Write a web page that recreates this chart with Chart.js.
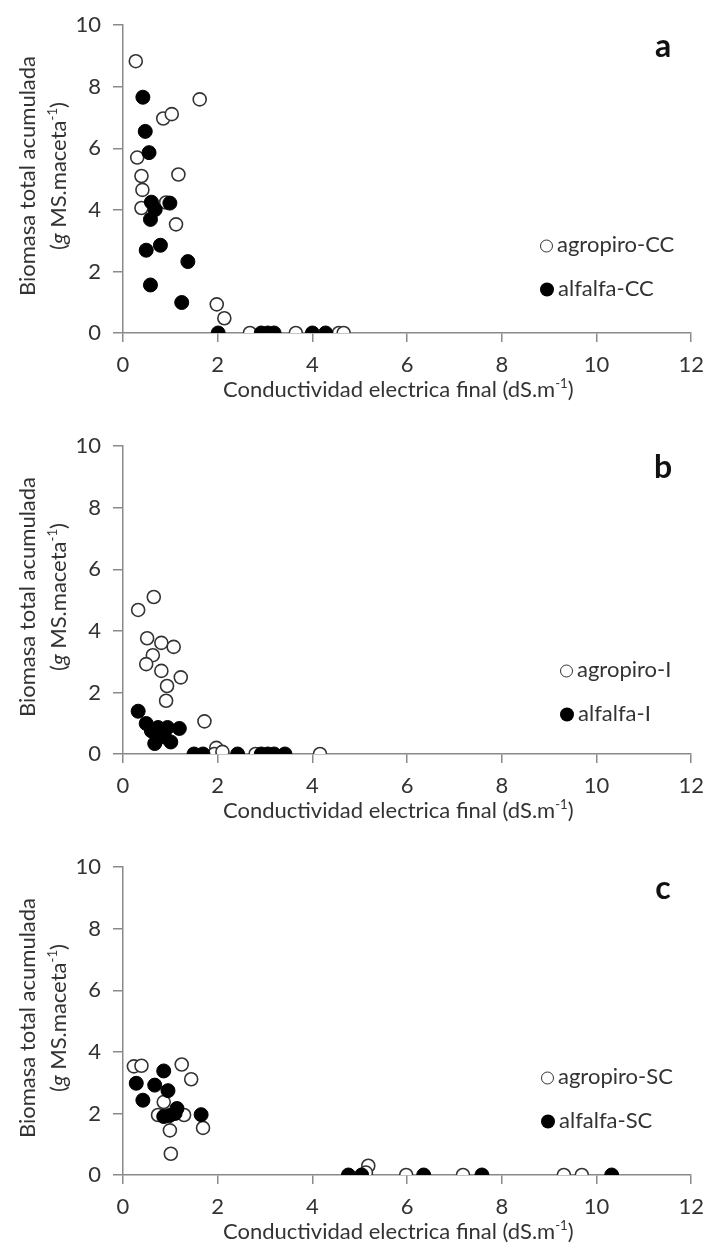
<!DOCTYPE html>
<html>
<head>
<meta charset="utf-8">
<script src="https://cdn.jsdelivr.net/npm/chart.js@4.4.1/dist/chart.umd.min.js"></script>
<style>
    body { margin: 0; background: #fff; width: 714px; height: 1258px; overflow: hidden; font-family: Lato, sans-serif; color: #333; }
    .panel { position: absolute; left: 0; width: 714px; height: 421px; }
    .panel canvas { position: absolute; left: 0; top: 0; }
    .ytitle { position: absolute; white-space: nowrap; font-size: 22px; transform: translate(-50%, -50%) rotate(-90deg); }
    .xtitle { position: absolute; left: 223px; top: 388px; white-space: nowrap; font-size: 22px; transform: translateY(-50%); }
    .letter { position: absolute; font-weight: bold; font-size: 32px; color: #111; transform: translate(-50%, -50%); }
    .leg { position: absolute; white-space: nowrap; font-size: 22px; transform: translateY(-50%); }
    .leg .dot { display: inline-block; width: 11px; height: 11px; border-radius: 50%; margin-right: 4px; vertical-align: -1px; }
    sup { font-size: 60%; }
</style>
</head>
<body>
<div id="panels"></div>
<script>
// Panel a - CC
const ccAgroX = [0.27, 1.62, 0.85, 1.03, 0.30, 0.39, 1.17, 0.41, 0.39, 0.91, 1.12, 1.98, 2.14, 2.68, 3.65, 4.56, 4.66];
const ccAgroY = [8.83, 7.59, 6.97, 7.11, 5.70, 5.10, 5.15, 4.65, 4.06, 4.24, 3.53, 0.93, 0.48, 0, 0, 0, 0];
const ccAlfX = [0.42, 0.47, 0.55, 0.60, 0.68, 0.99, 0.58, 0.49, 0.79, 1.37, 0.58, 1.24, 2.01, 2.92, 3.06, 3.19, 4.00, 4.28];
const ccAlfY = [7.66, 6.55, 5.86, 4.25, 4.01, 4.22, 3.69, 2.69, 2.85, 2.32, 1.56, 0.99, 0, 0, 0, 0, 0, 0];

// Panel b - I
const iAgroX = [0.32, 0.65, 0.51, 0.81, 1.07, 0.63, 0.49, 0.81, 1.22, 0.93, 0.91, 1.72, 1.97, 1.93, 2.10, 2.80, 4.16];
const iAgroY = [4.68, 5.10, 3.76, 3.61, 3.48, 3.21, 2.92, 2.70, 2.49, 2.21, 1.73, 1.06, 0.20, 0, 0.07, 0, 0];
const iAlfX = [0.32, 0.49, 0.74, 0.94, 1.19, 0.81, 0.88, 0.60, 0.67, 1.01, 1.50, 1.69, 2.42, 2.92, 3.06, 3.19, 3.42];
const iAlfY = [1.39, 0.99, 0.86, 0.86, 0.83, 0.65, 0.55, 0.75, 0.34, 0.39, 0, 0, 0, 0, 0, 0, 0];

// Panel c - SC
const scAgroX = [0.23, 0.39, 1.24, 1.44, 0.86, 0.74, 1.29, 1.69, 0.99, 1.01, 5.18, 5.13, 5.98, 7.18, 9.31, 9.69];
const scAgroY = [3.53, 3.55, 3.59, 3.11, 2.37, 1.95, 1.95, 1.53, 1.45, 0.69, 0.30, 0.08, 0, 0, 0, 0];
const scAlfX = [0.86, 0.28, 0.67, 0.95, 0.42, 1.14, 1.10, 0.86, 1.65, 0.98, 4.76, 5.04, 6.35, 7.58, 10.32];
const scAlfY = [3.38, 2.98, 2.92, 2.74, 2.43, 2.16, 2.00, 1.90, 1.96, 1.93, 0, 0, 0, 0, 0];

const xTicks = [0, 2, 4, 6, 8, 10, 12];
const yTicks = [0, 2, 4, 6, 8, 10];

const panels = [
    { letter: 'a', agro: 'agropiro-CC', alf: 'alfalfa-CC', ax: ccAgroX, ay: ccAgroY, fx: ccAlfX, fy: ccAlfY, legX: 540, legY: 243 },
    { letter: 'b', agro: 'agropiro-I', alf: 'alfalfa-I', ax: iAgroX, ay: iAgroY, fx: iAlfX, fy: iAlfY, legX: 560, legY: 247 },
    { letter: 'c', agro: 'agropiro-SC', alf: 'alfalfa-SC', ax: scAgroX, ay: scAgroY, fx: scAlfX, fy: scAlfY, legX: 541, legY: 233 }
];

function toPoints(xs, ys) {
    return xs.map((x, i) => ({ x: x, y: ys[i] }));
}

const axisColor = '#8a8a8a';
const tickFont = { family: 'Lato', size: 22 };

function buildPanel(p, idx) {
    const div = document.createElement('div');
    div.className = 'panel';
    div.style.top = (idx * 421) + 'px';
    div.innerHTML =
        '<canvas width="714" height="421"></canvas>' +
        '<div class="ytitle" style="left:26px;top:176px">Biomasa total acumulada</div>' +
        '<div class="ytitle" style="left:57px;top:176px">(<i>g</i> MS.maceta<sup>-1</sup>)</div>' +
        '<div class="xtitle">Conductividad electrica final (dS.m<sup>-1</sup>)</div>' +
        '<div class="letter" style="left:663px;top:44px">' + p.letter + '</div>' +
        '<div class="leg" style="left:' + p.legX + 'px;top:' + p.legY + 'px"><span class="dot" style="border:1.5px solid #333;background:#fff"></span>' + p.agro + '</div>' +
        '<div class="leg" style="left:' + p.legX + 'px;top:' + (p.legY + 44) + 'px"><span class="dot" style="width:14px;height:14px;background:#000"></span>' + p.alf + '</div>';
    document.getElementById('panels').appendChild(div);

    const ctx = div.querySelector('canvas').getContext('2d');
    new Chart(ctx, {
        type: 'scatter',
        data: {
            datasets: [{
                label: p.alf,
                data: toPoints(p.fx, p.fy),
                backgroundColor: '#000',
                borderColor: '#000',
                borderWidth: 1,
                pointRadius: 7,
                order: 0
            }, {
                label: p.agro,
                data: toPoints(p.ax, p.ay),
                backgroundColor: '#fff',
                borderColor: '#333',
                borderWidth: 1.6,
                pointRadius: 6.5,
                order: 1
            }]
        },
        options: {
            responsive: false,
            animation: false,
            devicePixelRatio: 1,
            layout: { padding: { top: 18, right: 15, left: 0, bottom: 0 } },
            plugins: {
                legend: { display: false },
                tooltip: { enabled: false }
            },
            scales: {
                x: {
                    type: 'linear',
                    min: 0,
                    max: 12,
                    afterFit: scale => { scale.height = 88; },
                    afterBuildTicks: scale => { scale.ticks = xTicks.map(v => ({ value: v })); },
                    ticks: { font: tickFont, color: '#333', padding: 10 },
                    grid: { drawOnChartArea: false, drawTicks: true, tickLength: 9, color: axisColor, lineWidth: 1.5 },
                    border: { color: axisColor, width: 1.5 }
                },
                y: {
                    type: 'linear',
                    min: 0,
                    max: 10,
                    afterFit: scale => { scale.width = 123; },
                    afterBuildTicks: scale => { scale.ticks = yTicks.map(v => ({ value: v })); },
                    ticks: { font: tickFont, color: '#333', padding: 12 },
                    grid: { drawOnChartArea: false, drawTicks: true, tickLength: 10, color: axisColor, lineWidth: 1.5 },
                    border: { color: axisColor, width: 1.5 }
                }
            }
        }
    });
}

panels.forEach(buildPanel);
</script>
</body>
</html>
